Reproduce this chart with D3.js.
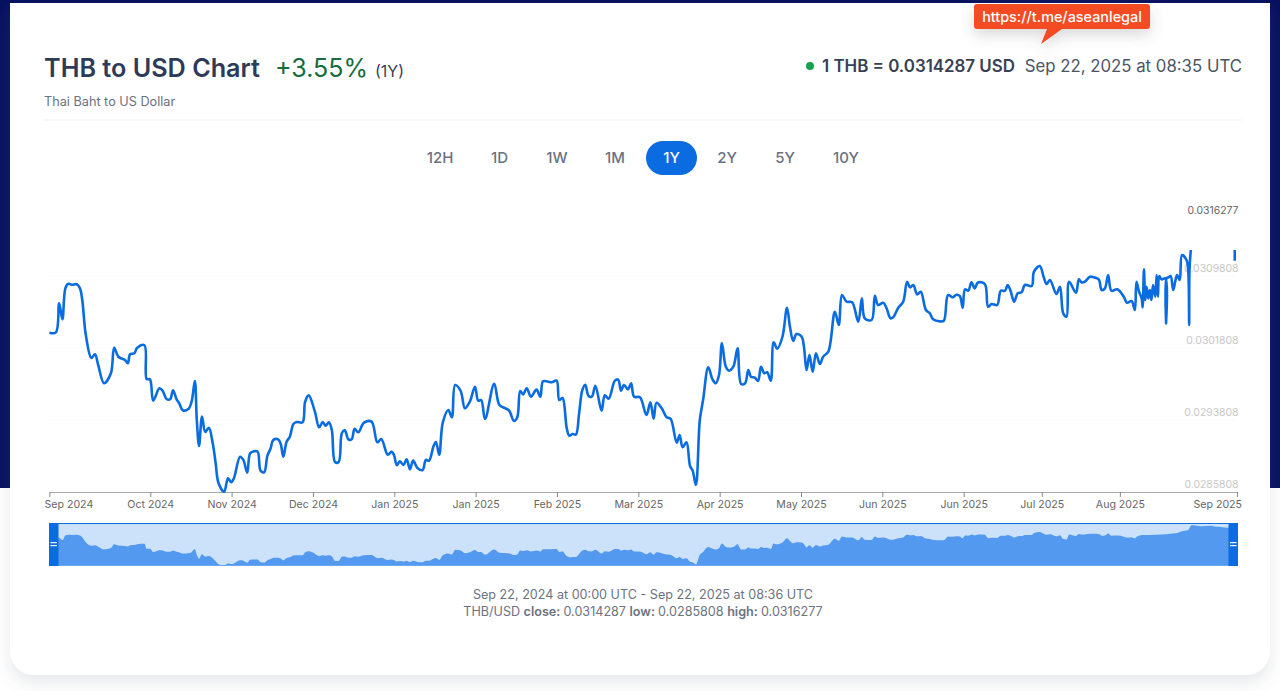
<!DOCTYPE html>
<html>
<head>
<meta charset="utf-8">
<script src="https://cdn.jsdelivr.net/npm/d3@7"></script>
<style>
  html, body { margin: 0; padding: 0; background: #fff; overflow: hidden; }
  svg { display: block; font-family: Inter, "Noto Sans", sans-serif; }
</style>
</head>
<body>
<div id="chart"></div>
<script>
// Values: days since Sep 22 2024 and the THB/USD rate
var dayOffset = [0,2,3,4,4.9,5.8,6.9,8.4,9.4,10.1,11.2,12.9,14,15,16.8,18.9,19.9,21.2,23.2,24.1,24.8,26.1,27,29.2,29.9,30.9,31.9,33.8,34.8,36,37.1,38,39.1,39.9,41,42.7,43.7,44.7,45.3,46,46.9,47.9,49,50.2,51.1,52,53.7,54.9,55.9,56.7,58.6,59.6,60.8,61.7,62.9,64,64.9,66,67,68,68.8,70.3,71.1,71.9,72.9,73.9,75,76,77.8,78.6,79.7,81.6,82.9,84,84.9,85.9,86.8,87.8,88.9,89.9,90.8,91.9,92.9,93.8,94.9,96.7,99,100.8,102,104,105.2,105.9,106.8,107.7,108.8,109.8,110.8,111.8,113.1,114.7,115.7,116.7,118,118.8,119.8,120.9,122.6,123.7,124.7,126.4,127.7,129.2,130.8,131.8,132.7,133.9,136.7,138.3,140,141.3,142.8,143.8,144.7,145.6,146.7,148,149.7,150.9,151.7,153.3,154.4,155.9,156.7,157.7,159,159.8,160.8,161.8,162.8,163.8,164.7,165.7,166.7,167.8,169.7,170.7,171.9,173.8,174.8,175.7,176.6,177.8,178.8,179.7,181.5,183.5,184.7,185.7,186.6,188.2,189.7,190.9,192.8,193.7,194.6,195.8,196.9,197.7,198.7,199.9,200.9,202.5,203.8,204.8,205.8,206.7,207.9,208.9,210.2,211.5,212.6,213.8,214.8,215.6,216.8,217.8,218.7,219.7,220.6,221.7,222.6,223.7,225.3,226.7,227.6,228.6,229.6,231.2,231.9,232.7,233.6,234.6,235.6,236.8,237.8,239.4,241.4,242.6,243.6,245,246.7,248.6,249.7,250.6,252.7,253.7,254.7,256.3,257.3,258.5,259.3,260.9,262.4,263.6,264.5,265.5,266.7,267.8,269.4,270.6,271.6,273.7,274.9,276.2,277.6,278.8,279.8,280.7,281.4,282.4,283.4,284.4,285.4,287.5,288.5,289.6,291.3,292.4,293.7,294.5,295.4,296.5,297.6,298.8,299.8,301.9,302.6,304.4,305.6,306.5,307.5,309.5,310.6,311.6,312.6,313.4,315.5,316.4,317.2,318.2,319.8,321,322.5,323.4,324.4,325.4,326.4,328.2,330.2,331.2,332.6,333.6,334.1,334.9,335.7,336,336.4,336.8,337.2,337.7,338.2,338.7,339.2,339.9,340.3,340.7,341.1,341.8,343,343.2,343.4,344,344.6,345.4,346.1,346.6,347.4,348.1,349.5,350,350.3,350.4,350.8];
var rates = [0.030351,0.030355,0.030677,0.0305,0.030844,0.030895,0.030884,0.030889,0.030844,0.030714,0.030325,0.03007,0.030111,0.029992,0.029789,0.0299,0.030184,0.030084,0.030048,0.030011,0.030111,0.030122,0.030184,0.030211,0.029836,0.029833,0.029595,0.029733,0.029706,0.029614,0.029611,0.029711,0.029611,0.029566,0.029489,0.029503,0.029584,0.029814,0.029381,0.029092,0.029418,0.029248,0.029295,0.029122,0.0289,0.028678,0.028584,0.028733,0.028689,0.028733,0.028973,0.028937,0.028795,0.029011,0.029033,0.029029,0.028818,0.0288,0.028984,0.029067,0.029159,0.029166,0.029114,0.028973,0.02914,0.029195,0.029336,0.029359,0.029355,0.029584,0.029655,0.029473,0.0293,0.029359,0.029318,0.029355,0.02927,0.028914,0.028914,0.029236,0.029266,0.029166,0.029166,0.029284,0.029244,0.029351,0.029362,0.029133,0.02917,0.028995,0.029029,0.028992,0.028878,0.028922,0.028881,0.028944,0.028833,0.028929,0.028848,0.028825,0.028937,0.028929,0.029084,0.029137,0.028995,0.029351,0.029492,0.029411,0.02977,0.029703,0.029511,0.029584,0.029751,0.029595,0.029603,0.029392,0.029784,0.029548,0.029514,0.029484,0.02937,0.029411,0.029703,0.029666,0.029733,0.02964,0.029718,0.02964,0.029811,0.029806,0.0298,0.029818,0.029603,0.029625,0.029289,0.029206,0.029225,0.029218,0.029455,0.029714,0.029773,0.029648,0.02964,0.029762,0.029484,0.029655,0.029618,0.029818,0.029829,0.029706,0.02977,0.029722,0.029789,0.02964,0.029633,0.029436,0.029578,0.029395,0.029573,0.029511,0.029411,0.029395,0.029129,0.029214,0.029078,0.029133,0.02887,0.028818,0.028659,0.029381,0.029603,0.029966,0.029833,0.029789,0.029881,0.030233,0.029973,0.029929,0.029973,0.030178,0.029781,0.029789,0.029936,0.029862,0.029851,0.029814,0.029973,0.0299,0.029911,0.029818,0.030244,0.030173,0.030306,0.030629,0.030418,0.030259,0.030336,0.030306,0.030195,0.029936,0.030103,0.029918,0.030122,0.030003,0.030084,0.03014,0.030584,0.030436,0.03077,0.030695,0.030689,0.030473,0.030733,0.030511,0.030492,0.030762,0.030659,0.030684,0.030622,0.030511,0.030522,0.030629,0.030695,0.030917,0.030855,0.030881,0.030777,0.030806,0.030603,0.030566,0.0305,0.030477,0.030484,0.03077,0.030744,0.030773,0.030759,0.030629,0.030833,0.030817,0.030912,0.030844,0.030909,0.030892,0.03064,0.03067,0.030659,0.030817,0.030817,0.030881,0.030817,0.030695,0.030789,0.0308,0.030881,0.03087,0.031029,0.031092,0.030966,0.030892,0.030936,0.030781,0.030862,0.030566,0.030529,0.030917,0.030795,0.030944,0.030911,0.030917,0.030973,0.030966,0.030944,0.030825,0.030844,0.030992,0.030817,0.030833,0.030751,0.030684,0.030703,0.030603,0.030917,0.030806,0.030733,0.030633,0.031055,0.030714,0.030862,0.030733,0.030825,0.030714,0.030881,0.030751,0.030992,0.030751,0.030981,0.030944,0.030955,0.030455,0.030958,0.030966,0.030981,0.030825,0.030936,0.030992,0.030936,0.031214,0.031159,0.031047,0.030436,0.031047,0.03127];

// short stroke after the gap, right next to the end of the axis
var tailDays = [364.3, 364.31];
var tailRates = [0.03127, 0.031151];

// the overview strip is smoother than the main line after day 334
var overviewDays = [334,336,340,346,348.5,350,351,354,357,358,360,362.4,365];
var overviewRates = [0.0307,0.030875,0.0309,0.031002,0.031176,0.03125,0.0316,0.03154,0.031574,0.03151,0.031475,0.031424,0.0314287];

var xTickDates = ["2024-09-22","2024-10-23","2024-11-17","2024-12-12","2025-01-06","2025-01-31","2025-02-25","2025-03-22","2025-04-16","2025-05-11","2025-06-05","2025-06-30","2025-07-24","2025-08-17","2025-09-22"];
var yTickValues = [0.0285808, 0.0293808, 0.0301808, 0.0309808, 0.0316277];
var rangeButtons = ["12H","1D","1W","1M","1Y","2Y","5Y","10Y"];
var buttonCenters = [440,499.5,557,615,671.5,727,785,846];

var w = 1280, h = 691;
var blue = "#0a6ce0";
var startDate = Date.UTC(2024, 8, 22);

function dayToDate(d) { return new Date(startDate + d * 864e5); }

var svg = d3.select("#chart").append("svg").attr("width", w).attr("height", h);

// Backdrop and card
svg.append("rect").attr("width", w).attr("height", h).attr("fill", "#fff");
svg.append("rect").attr("width", w).attr("height", 488).attr("fill", "#07115f");
var defs = svg.append("defs");
var shadow = defs.append("filter").attr("id", "cardShadow")
  .attr("x", "-5%").attr("y", "-5%").attr("width", "110%").attr("height", "115%");
shadow.append("feDropShadow").attr("dx", 0).attr("dy", 8).attr("stdDeviation", 8)
  .attr("flood-color", "#6b7280").attr("flood-opacity", 0.16);
var tipShadow = defs.append("filter").attr("id", "tipShadow")
  .attr("x", "-20%").attr("y", "-30%").attr("width", "140%").attr("height", "190%");
tipShadow.append("feDropShadow").attr("dx", 0).attr("dy", 6).attr("stdDeviation", 7)
  .attr("flood-color", "#555").attr("flood-opacity", 0.22);

svg.append("path")
  .attr("d", "M10,3H1270V651a24,24 0 0 1 -24,24H34a24,24 0 0 1 -24,-24Z")
  .attr("fill", "#fff")
  .attr("filter", "url(#cardShadow)");

// Header
svg.append("text").attr("x", 44).attr("y", 77).text("THB to USD Chart")
  .attr("font-size", 25.2).attr("font-weight", 600).attr("fill", "#2d3a58");
svg.append("text").attr("x", 275).attr("y", 77).text("+3.55%")
  .attr("font-size", 25).attr("font-weight", 400).attr("fill", "#166c3c");
svg.append("text").attr("x", 375).attr("y", 76.5).text("(1Y)")
  .attr("font-size", 16).attr("fill", "#374151");
svg.append("text").attr("x", 44).attr("y", 106).text("Thai Baht to US Dollar")
  .attr("font-size", 12.7).attr("fill", "#6b7280");
svg.append("line").attr("x1", 44).attr("x2", 1242).attr("y1", 120).attr("y2", 120)
  .attr("stroke", "#f0f1f3");

svg.append("circle").attr("cx", 810).attr("cy", 66).attr("r", 4).attr("fill", "#16a34a");
svg.append("text").attr("x", 822).attr("y", 71.5).text("1 THB = 0.0314287 USD")
  .attr("font-size", 16.9).attr("font-weight", 600).attr("fill", "#374151");
svg.append("text").attr("x", 1242).attr("y", 71.5).attr("text-anchor", "end")
  .text("Sep 22, 2025 at 08:35 UTC")
  .attr("font-size", 16.8).attr("fill", "#4b5563");

// Red note on top of the card
svg.append("path")
  .attr("d", "M977,4H1147a3,3 0 0 1 3,3V26a3,3 0 0 1 -3,3H1062L1041,44L1047,29H977a3,3 0 0 1 -3,-3V7a3,3 0 0 1 3,-3Z")
  .attr("fill", "#f44b22").attr("filter", "url(#tipShadow)");
svg.append("text").attr("x", 1062).attr("y", 21.5).attr("text-anchor", "middle")
  .text("https://t.me/aseanlegal")
  .attr("font-size", 14.4).attr("font-weight", 500).attr("fill", "#fff");

// Range buttons
svg.append("rect").attr("x", 646).attr("y", 141).attr("width", 51).attr("height", 34)
  .attr("rx", 17).attr("fill", blue);
svg.selectAll(".range-btn").data(rangeButtons).enter().append("text")
  .attr("class", "range-btn")
  .attr("x", function(d, i) { return buttonCenters[i]; })
  .attr("y", 163)
  .attr("text-anchor", "middle")
  .attr("font-size", 15)
  .attr("font-weight", 500)
  .attr("fill", function(d) { return d == "1Y" ? "#fff" : "#6b7280"; })
  .text(function(d) { return d; });

// Scales
var xScale = d3.scaleUtc()
  .domain([new Date(startDate), new Date(Date.UTC(2025, 8, 22))])
  .range([49.4, 1237]);
var yScale = d3.scaleLinear()
  .domain([0.0285808, 0.0316277])
  .range([492, 217.8]);
var miniY = d3.scaleLinear()
  .domain([0.0285808, 0.0316277])
  .range([565.5, 525]);

// Gridlines and right hand labels
var yAxis = d3.axisLeft(yScale)
  .tickValues(yTickValues)
  .tickSize(0)
  .tickFormat(d3.format(".7f"));
var yG = svg.append("g").attr("transform", "translate(1238.5,0)").call(yAxis);
yG.select(".domain").remove();
yG.selectAll("text")
  .attr("x", 0).attr("dy", "-0.42em")
  .attr("font-size", 10.4).attr("font-family", "Inter")
  .attr("fill", function(d) { return d == 0.0316277 ? "#666" : "#c8c8c8"; });
svg.selectAll(".grid").data(yTickValues.slice(1, 4)).enter().append("line")
  .attr("class", "grid")
  .attr("x1", 49).attr("x2", 1237)
  .attr("y1", function(d) { return yScale(d); })
  .attr("y2", function(d) { return yScale(d); })
  .attr("stroke", "#fafafa");

// X axis
var xAxis = d3.axisBottom(xScale)
  .tickValues(xTickDates.map(function(d) { return new Date(d + "T00:00:00Z"); }))
  .tickSize(5)
  .tickSizeOuter(0)
  .tickFormat(d3.utcFormat("%b %Y"));
var xG = svg.append("g").attr("transform", "translate(0,492)").call(xAxis);
xG.select(".domain").attr("stroke", "#aaa").attr("stroke-width", 1.2);
xG.selectAll("line").attr("stroke", "#888");
xG.selectAll("text")
  .attr("font-size", 10.6).attr("font-family", "Inter").attr("fill", "#666")
  .attr("y", 8);
xG.selectAll("text").filter(function(d, i) { return i == 0; })
  .attr("text-anchor", "start").attr("dx", -5.4);
xG.selectAll("text").filter(function(d, i) { return i == xTickDates.length - 1; })
  .attr("text-anchor", "end").attr("dx", 4.5);

// Main line
var series = dayOffset.map(function(d, i) { return { date: dayToDate(d), rate: rates[i] }; });
var tail = tailDays.map(function(d, i) { return { date: dayToDate(d), rate: tailRates[i] }; });
var line = d3.line()
  .x(function(d) { return xScale(d.date); })
  .y(function(d) { return yScale(d.rate); })
  .curve(d3.curveCatmullRom.alpha(0.5));
svg.append("path").datum(series).attr("d", line)
  .attr("fill", "none").attr("stroke", blue).attr("stroke-width", 2.6).attr("stroke-linejoin", "round");
svg.append("path").datum(tail).attr("d", line)
  .attr("fill", "none").attr("stroke", blue).attr("stroke-width", 2.6);

// Overview strip
svg.append("rect").attr("x", 49).attr("y", 523).attr("width", 1189).attr("height", 43)
  .attr("fill", "#cce1fa");
var overview = series.filter(function(d, i) { return dayOffset[i] < 334; })
  .concat(overviewDays.map(function(d, i) { return { date: dayToDate(d), rate: overviewRates[i] }; }));
var area = d3.area()
  .x(function(d) { return xScale(d.date); })
  .y0(566)
  .y1(function(d) { return miniY(d.rate); })
  .curve(d3.curveMonotoneX);
svg.append("path").datum(overview).attr("d", area).attr("fill", "#5299ef");
svg.append("rect").attr("x", 49).attr("y", 565).attr("width", 1189).attr("height", 1).attr("fill", "#6aa8f2");
svg.append("rect").attr("x", 49).attr("y", 523).attr("width", 1189).attr("height", 1).attr("fill", blue);

// Overview handles
[49, 1228.5].forEach(function(hx) {
  svg.append("rect").attr("x", hx).attr("y", 523).attr("width", 9.5).attr("height", 43).attr("fill", blue);
  [-2, 1].forEach(function(off) {
    svg.append("rect").attr("x", hx + 1.5).attr("y", 544 + off).attr("width", 6.5).attr("height", 1.2).attr("fill", "#fff");
  });
});

// Footer
svg.append("text").attr("x", 643).attr("y", 599).attr("text-anchor", "middle")
  .text("Sep 22, 2024 at 00:00 UTC - Sep 22, 2025 at 08:36 UTC")
  .attr("font-size", 12.6).attr("fill", "#6b7280");
var summary = svg.append("text").attr("x", 643).attr("y", 616).attr("text-anchor", "middle")
  .attr("font-size", 12.6).attr("fill", "#6b7280");
[["THB/USD ", 400], ["close: ", 600], ["0.0314287 ", 400], ["low: ", 600], ["0.0285808 ", 400], ["high: ", 600], ["0.0316277", 400]]
  .forEach(function(p) {
    summary.append("tspan").attr("font-weight", p[1]).attr("xml:space", "preserve").text(p[0]);
  });
</script>
</body>
</html>
